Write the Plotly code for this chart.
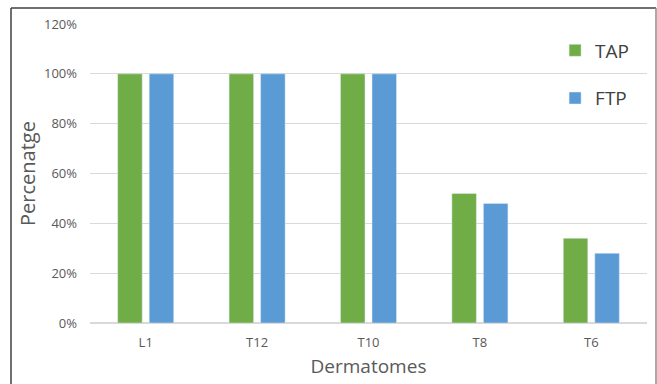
import plotly.graph_objects as go

# Dermatome levels and the share of patients with sensory block at each level
dermatomes = ["L1", "T12", "T10", "T8", "T6"]
tap_values = [1.00, 1.00, 1.00, 0.52, 0.34]
ftp_values = [1.00, 1.00, 1.00, 0.48, 0.28]

FONT = "Open Sans, Noto Sans, sans-serif"
GREEN = "#70AD47"
BLUE = "#5B9BD5"

fig = go.Figure()
fig.add_trace(go.Bar(name="TAP", x=dermatomes, y=tap_values,
                     marker_color=GREEN, legendgroup="tap"))
fig.add_trace(go.Bar(name="FTP", x=dermatomes, y=ftp_values,
                     marker_color=BLUE, legendgroup="ftp"))

W, H = 657, 384
L, R, T, B = 90, 10, 24, 61
pw, ph = W - L - R, H - T - B


def px_x(p):
    return (p - L) / pw


def px_y(p):
    return (H - B - p) / ph


# frame around the chart: dark left and top edges, lighter right edge
frame = [
    dict(x0=px_x(11), x1=px_x(11), y0=px_y(8), y1=px_y(400), color="#404040"),
    dict(x0=px_x(11), x1=px_x(656), y0=px_y(8), y1=px_y(8), color="#404040"),
    dict(x0=px_x(656), x1=px_x(656), y0=px_y(8), y1=px_y(400), color="#8c8c8c"),
]
for f in frame:
    fig.add_shape(type="line", xref="paper", yref="paper",
                  x0=f["x0"], x1=f["x1"], y0=f["y0"], y1=f["y1"],
                  line=dict(color=f["color"], width=1.5), layer="above")

fig.update_layout(
    width=W, height=H,
    margin=dict(l=L, r=R, t=T, b=B),
    paper_bgcolor="white", plot_bgcolor="white",
    font=dict(family=FONT, color="#595959"),
    barmode="group", bargap=0.434, bargroupgap=0.222,
    showlegend=True,
    legend=dict(x=0.835, y=0.975, xanchor="left", yanchor="top",
                font=dict(size=19, color="#404040"),
                tracegroupgap=20, bgcolor="rgba(0,0,0,0)",
                itemwidth=30),
    xaxis=dict(
        showgrid=False, showline=False, zeroline=False,
        tickfont=dict(size=13, color="#595959"),
        ticks="", ticklabelstandoff=10,
        title=dict(text="Dermatomes", font=dict(size=19, color="#595959"),
                   standoff=9),
    ),
    yaxis=dict(
        range=[0, 1.2], dtick=0.2, tickformat=".0%",
        showgrid=True, gridcolor="#d9d9d9", gridwidth=1,
        zeroline=True, zerolinecolor="#d9d9d9", zerolinewidth=1.5,
        showline=False, ticks="",
        tickfont=dict(size=13, color="#595959"),
        ticklabelstandoff=12,
        title=dict(text="Percenatge", font=dict(size=20, color="#595959"),
                   standoff=2),
    ),
)

fig.write_html("out.html")
